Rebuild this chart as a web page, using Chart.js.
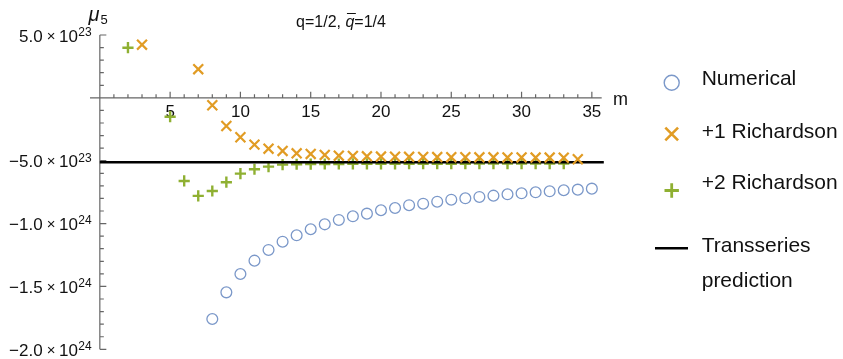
<!DOCTYPE html>
<html>
<head>
<meta charset="utf-8">
<script src="https://cdn.jsdelivr.net/npm/chart.js@4.4.1/dist/chart.umd.min.js"></script>
<style>
  html, body { margin: 0; padding: 0; background: #fff; }
  #wrap { width: 843px; height: 359px; position: relative; }
</style>
</head>
<body>
<div id="wrap"><canvas id="chart"></canvas></div>
<script>
// values
const numericalM = [8, 9, 10, 11, 12, 13, 14, 15, 16, 17, 18, 19, 20, 21, 22, 23, 24, 25, 26, 27, 28, 29, 30, 31, 32, 33, 34, 35];
const numericalMu = [-1.759e24, -1.547e24, -1.401e24, -1.295e24, -1.210e24, -1.144e24, -1.093e24, -1.045e24, -1.006e24,
  -9.71e23, -9.42e23, -9.21e23, -8.94e23, -8.76e23, -8.54e23, -8.42e23, -8.26e23, -8.10e23, -7.99e23, -7.88e23,
  -7.78e23, -7.67e23, -7.59e23, -7.51e23, -7.43e23, -7.35e23, -7.30e23, -7.22e23];

const rich1M = [3, 7, 8, 9, 10, 11, 12, 13, 14, 15, 16, 17, 18, 19, 20, 21, 22, 23, 24, 25, 26, 27, 28, 29, 30, 31, 32, 33, 34];
const rich1Mu = [4.23e23, 2.28e23, -0.59e23, -2.24e23, -3.13e23, -3.72e23, -4.04e23, -4.22e23, -4.41e23, -4.46e23,
  -4.54e23, -4.60e23, -4.62e23, -4.65e23, -4.67e23, -4.68e23, -4.69e23, -4.70e23, -4.71e23, -4.72e23,
  -4.72e23, -4.73e23, -4.73e23, -4.74e23, -4.74e23, -4.75e23, -4.75e23, -4.76e23, -4.88e23];

const rich2M = [2, 5, 6, 7, 8, 9, 10, 11, 12, 13, 14, 15, 16, 17, 18, 19, 20, 21, 22, 23, 24, 25, 26, 27, 28, 29, 30, 31, 32, 33];
const rich2Mu = [3.99e23, -1.50e23, -6.61e23, -7.80e23, -7.41e23, -6.71e23, -6.03e23, -5.68e23, -5.47e23, -5.31e23,
  -5.28e23, -5.27e23, -5.26e23, -5.26e23, -5.25e23, -5.25e23, -5.25e23, -5.25e23, -5.24e23, -5.24e23,
  -5.24e23, -5.24e23, -5.24e23, -5.23e23, -5.23e23, -5.23e23, -5.23e23, -5.23e23, -5.23e23, -5.23e23];

const predictionM = [0, 35.85];
const predictionMu = [-5.12e23, -5.12e23];

const xTicks = [5, 10, 15, 20, 25, 30, 35];
const yTicks = [5e23, -5e23, -1e24, -1.5e24, -2e24];
const yTickMantissa = ["5.0", "\u22125.0", "\u22121.0", "\u22121.5", "\u22122.0"];
const yTickExponent = ["23", "23", "24", "24", "24"];

const FONT = "'Liberation Sans', Arial, sans-serif";
const BLUE = '#7b98c9', ORANGE = '#e19c24', GREEN = '#8fb032';

function pts(xs, ys) {
  return xs.map((m, i) => ({ x: m, y: ys[i] }));
}

// Mathematica-style axes crossing at the origin, ticks pointing inward
const axesPlugin = {
  id: 'mmaAxes',
  beforeDatasetsDraw(chart) {
    const ctx = chart.ctx;
    const xs = chart.scales.x, ys = chart.scales.y;
    const x0 = xs.getPixelForValue(0), y0 = ys.getPixelForValue(0);
    ctx.save();
    ctx.strokeStyle = '#666';
    ctx.lineWidth = 1.2;
    ctx.beginPath();
    ctx.moveTo(xs.left, y0);
    ctx.lineTo(xs.getPixelForValue(35.7), y0);
    ctx.moveTo(x0, ys.top);
    ctx.lineTo(x0, ys.bottom);
    for (let m = 1; m <= 35; m++) {
      const px = xs.getPixelForValue(m);
      const len = m % 5 === 0 ? 6 : 3.5;
      ctx.moveTo(px, y0);
      ctx.lineTo(px, y0 - len);
    }
    for (let k = -20; k <= 5; k++) {
      if (k === 0) continue;
      const py = ys.getPixelForValue(k * 1e23);
      const len = k % 5 === 0 ? 6.5 : 4;
      ctx.moveTo(x0, py);
      ctx.lineTo(x0 + len, py);
    }
    ctx.stroke();

    ctx.fillStyle = '#111';
    ctx.font = '17px ' + FONT;
    ctx.textAlign = 'center';
    ctx.textBaseline = 'middle';
    xTicks.forEach(v => ctx.fillText(String(v), xs.getPixelForValue(v), y0 + 14));

    // y tick labels: mantissa x 10^exp
    const right = 91.7;
    ctx.textAlign = 'right';
    ctx.textBaseline = 'alphabetic';
    yTicks.forEach((v, i) => {
      const py = ys.getPixelForValue(v);
      const base = py + 6.5;
      ctx.font = '12px ' + FONT;
      const ws = ctx.measureText(yTickExponent[i]).width;
      ctx.fillText(yTickExponent[i], right, base - 5.7);
      ctx.font = '17px ' + FONT;
      let x = right - ws - 0.5;
      ctx.fillText('10', x, base);
      x -= ctx.measureText('10').width + 3.5;
      ctx.font = '15px ' + FONT;
      ctx.fillText('\u00d7', x, base - 1);
      x -= ctx.measureText('\u00d7').width + 4;
      ctx.font = '17px ' + FONT;
      ctx.fillText(yTickMantissa[i], x, base);
    });

    // axis labels
    ctx.textAlign = 'left';
    ctx.font = 'italic 20px ' + FONT;
    ctx.fillText('\u03bc', 88.5, 20.5);
    ctx.font = '13px ' + FONT;
    ctx.fillText('5', 100.5, 24);
    ctx.font = '18px ' + FONT;
    ctx.fillText('m', 613, 105);

    // title q=1/2, q-bar=1/4
    ctx.font = '16px ' + FONT;
    const a = 'q=1/2, ', c = '=1/4';
    const wa = ctx.measureText(a).width, wc = ctx.measureText(c).width;
    ctx.font = 'italic 16px ' + FONT;
    const wb = ctx.measureText('q').width;
    let tx = 341 - (wa + wb + wc) / 2;
    const tb = 27;
    ctx.font = '16px ' + FONT;
    ctx.fillText(a, tx, tb);
    tx += wa;
    ctx.font = 'italic 16px ' + FONT;
    ctx.fillText('q', tx, tb);
    ctx.lineWidth = 1;
    ctx.strokeStyle = '#111';
    ctx.beginPath();
    ctx.moveTo(tx + 1.5, 13.5);
    ctx.lineTo(tx + wb + 1.5, 13.5);
    ctx.stroke();
    tx += wb;
    ctx.font = '16px ' + FONT;
    ctx.fillText(c, tx, tb);
    ctx.restore();
  },
  afterDatasetsDraw(chart) {
    const ctx = chart.ctx;
    const ds = chart.data.datasets;
    const mx = 671.7, tx = 701.7;
    ctx.save();
    const marks = [
      { style: 'circle', r: 7.5, w: 1.4, color: BLUE, y: 82.7, ty: 79 },
      { style: 'crossRot', r: 9, w: 2.6, color: ORANGE, y: 134, ty: 132.7 },
      { style: 'cross', r: 7.2, w: 2.8, color: GREEN, y: 190.5, ty: 183.3 }
    ];
    marks.forEach(k => {
      ctx.strokeStyle = k.color;
      ctx.fillStyle = 'rgba(0,0,0,0)';
      ctx.lineWidth = k.w;
      Chart.helpers.drawPoint(ctx, { pointStyle: k.style, radius: k.r, borderWidth: k.w, rotation: 0 }, mx, k.y);
    });
    ctx.strokeStyle = '#000';
    ctx.lineWidth = 2.6;
    ctx.beginPath();
    ctx.moveTo(655, 248.3);
    ctx.lineTo(688, 248.3);
    ctx.stroke();

    ctx.fillStyle = '#111';
    ctx.font = '21px ' + FONT;
    ctx.textAlign = 'left';
    ctx.textBaseline = 'middle';
    ctx.fillText(ds[0].label, tx, marks[0].ty);
    ctx.fillText(ds[1].label, tx, marks[1].ty);
    ctx.fillText(ds[2].label, tx, marks[2].ty);
    const lines = ds[3].label.split(' ');
    ctx.fillText(lines[0], tx, 246.7);
    ctx.fillText(lines[1], tx, 281.7);
    ctx.restore();
  }
};

new Chart(document.getElementById('chart'), {
  type: 'scatter',
  data: {
    datasets: [
      {
        label: 'Numerical',
        data: pts(numericalM, numericalMu),
        pointStyle: 'circle',
        pointRadius: 5.4,
        pointBorderWidth: 1.3,
        pointBorderColor: BLUE,
        pointBackgroundColor: 'rgba(0,0,0,0)',
        order: 1
      },
      {
        label: '+1 Richardson',
        data: pts(rich1M, rich1Mu),
        pointStyle: 'crossRot',
        pointRadius: 7,
        pointBorderWidth: 2.2,
        pointBorderColor: ORANGE,
        order: 2
      },
      {
        label: '+2 Richardson',
        data: pts(rich2M, rich2Mu),
        pointStyle: 'cross',
        pointRadius: 5.6,
        pointBorderWidth: 2.4,
        pointBorderColor: GREEN,
        order: 4
      },
      {
        type: 'line',
        label: 'Transseries prediction',
        data: pts(predictionM, predictionMu),
        borderColor: '#000',
        borderWidth: 2.6,
        pointRadius: 0,
        showLine: true,
        order: 3
      }
    ]
  },
  options: {
    responsive: true,
    maintainAspectRatio: false,
    animation: false,
    events: [],
    layout: { padding: { left: 90, right: 238.5, top: 35, bottom: 9.7 } },
    scales: {
      x: { type: 'linear', min: -0.7, max: 35.9, display: false },
      y: { type: 'linear', min: -2e24, max: 5e23, display: false }
    },
    plugins: {
      legend: { display: false },
      tooltip: { enabled: false },
      title: { display: false }
    }
  },
  plugins: [axesPlugin]
});
</script>
</body>
</html>
